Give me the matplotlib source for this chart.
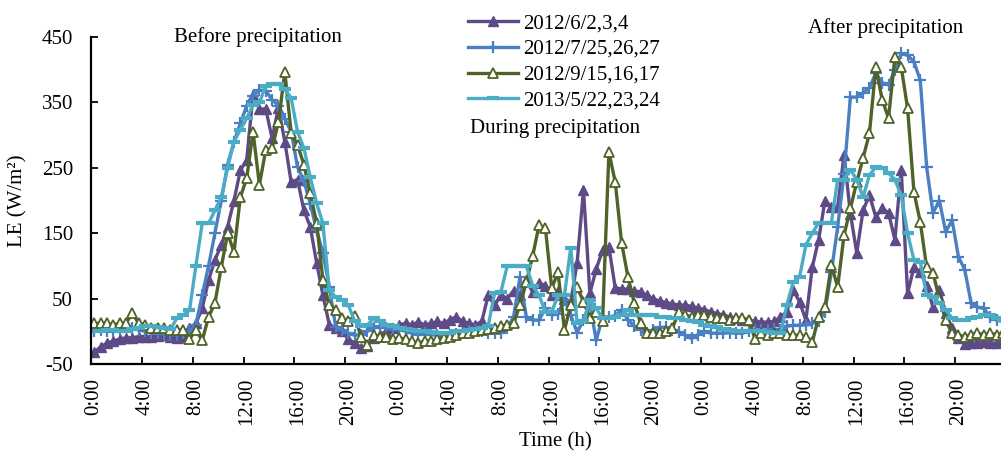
import numpy as np
import matplotlib
matplotlib.use("Agg")
import matplotlib.pyplot as plt
from matplotlib.ticker import FixedLocator, NullFormatter

plt.rcParams["font.family"] = ["Liberation Serif", "DejaVu Serif"]
plt.rcParams["axes.unicode_minus"] = False

# ---------------------------------------------------------------------------
# Data: half-hourly LE (W/m2), three consecutive days per event
# ---------------------------------------------------------------------------
labels = ["2012/6/2,3,4", "2012/7/25,26,27", "2012/9/15,16,17", "2013/5/22,23,24"]

le_jun = [
    -32, -24, -18, -15, -12, -10, -10, -8, -8, -8, -7, -6, -8, -10, -8, 5,
    12, 35, 78, 109, 132, 160, 200, 246, 262, 362, 340, 340, 295, 342, 290, 228,
    232, 185, 160, 105, 55, 10, 5, 0, -12, -18, -25, -22, -10, -5, 0, 5,
    10, 12, 10, 14, 10, 12, 15, 12, 18, 22, 15, 12, 10, 15, 55, 40,
    55, 50, 62, 55, 78, 60, 74, 70, 55, 62, 50, 45, 105, 216, 58, 95,
    124, 129, 66, 65, 64, 62, 60, 55, 50, 46, 44, 42, 40, 40, 38, 36,
    33, 30, 27, 25, 22, 20, 18, 17, 15, 14, 14, 15, 22, 30, 63, 45,
    17, 98, 140, 200, 190, 190, 270, 180, 120, 185, 208, 175, 188, 181, 140, 247,
    58, 98, 90, 70, 37, 63, 28, 5, -10, -20, -18, -18, -17, -18, -18, -17,
]

le_jul = [
    0, 2, 0, 0, 2, 8, 5, 2, 0, -2, -3, -4, -5, -5, -3, 0,
    10, 55, 100, 150, 200, 255, 290, 318, 345, 360, 369, 368, 354, 345, 325, 305,
    251, 230, 195, 155, 120, 68, 7, 2, -3, -6, -5, 0, 5, 8, 5, 3,
    3, 0, -3, -5, -3, -5, -6, -8, -6, -4, -3, 0, 2, 0, -2, -3,
    -3, 5, 22, 83, 22, 17, 17, 35, 25, 27, 48, 25, -2, 18, 42, -14,
    22, 22, 24, 33, 17, 8, 2, -2, 2, 6, 6, 2, -1, -6, -11, -5,
    0, -3, -3, -3, -2, -3, -3, 0, 2, 2, 2, 3, 2, 8, 9, 9,
    10, 12, 15, 30, 90, 160, 240, 358, 358, 365, 372, 395, 380, 377, 400, 425,
    422, 412, 384, 251, 181, 200, 152, 170, 114, 94, 43, 37, 35, 22, 17, 15,
]

le_sep = [
    12, 12, 12, 10, 12, 12, 28, 12, 10, 5, 5, 5, 2, 2, 2, -12,
    2, -14, 22, 43, 98, 150, 121, 205, 234, 305, 224, 277, 280, 320, 397, 303,
    285, 255, 211, 166, 78, 40, 32, 20, 15, 24, -9, -21, -6, -8, -8, -12,
    -10, -12, -15, -18, -15, -15, -12, -10, -8, -5, -3, -2, 0, 2, 3, 5,
    8, 10, 12, 40, 75, 115, 162, 158, 66, 90, 2, 40, 68, 45, 21, 30,
    15, 274, 228, 135, 83, 43, 12, -2, -3, -2, 0, 5, 30, 25, 22, 25,
    25, 22, 20, 20, 18, 20, 20, 18, -12, -3, -5, -3, -2, -5, -6, -6,
    -8, -17, 22, 37, 101, 68, 147, 188, 228, 265, 303, 404, 354, 326, 419, 404,
    341, 213, 167, 98, 89, 50, 17, -3, -5, -9, -5, -3, -5, -3, -5, -3,
]

le_may = [
    0, 0, 2, 2, 0, 0, 3, 5, 8, 8, 7, 5, 3, 20, 25, 32,
    100, 165, 165, 185, 205, 250, 290, 308, 326, 346, 350, 375, 378, 378, 370, 357,
    305, 280, 236, 196, 165, 63, 52, 48, 40, 15, 8, 10, 20, 15, 10, 8,
    5, 3, 2, 0, 0, -1, -2, -2, -2, 0, 0, 2, 3, 5, 8, 58,
    60, 100, 100, 100, 100, 70, 55, 30, 30, 55, 55, 128, 12, 15, 48, 35,
    20, 20, 22, 25, 33, 25, 25, 25, 25, 22, 22, 20, 20, 18, 15, 14,
    10, 8, 6, 4, 2, 1, 0, 0, 0, 0, -1, -2, -3, 40, 75, 83,
    132, 150, 166, 166, 166, 232, 232, 247, 232, 205, 239, 251, 250, 242, 232, 208,
    150, 109, 106, 56, 53, 43, 33, 20, 17, 17, 20, 22, 25, 25, 20, 17,
]

# half-hourly categories over three days (hours since first midnight)
hours = np.arange(len(le_jun)) * 0.5 + 0.25
tick_hours = np.arange(0, 72, 4)
tick_labels = [f"{h % 24}:00" for h in tick_hours]

# ---------------------------------------------------------------------------
# Styles
# ---------------------------------------------------------------------------
styles = [
    dict(color="#5d4a86", marker="^", ms=7, mfc="#5d4a86", mec="#5d4a86"),
    dict(color="#4a80c2", marker="+", ms=8, mew=1.6),
    dict(color="#4f6228", marker="^", ms=7.5, mfc="white", mec="#4f6228", mew=1.3),
    dict(color="#4bacc6", marker="_", ms=8, mew=3),
]
FS = 15

W, H = 1001, 454
fig = plt.figure(figsize=(W / 100, H / 100), dpi=100)
ax = fig.add_axes([91 / W, (H - 364) / H, (W - 91) / W, (364 - 37) / H])

for series, lab, st in zip([le_jun, le_jul, le_sep, le_may], labels, styles):
    ax.plot(hours, series, lw=2.4, label=lab, **st)

ax.set_xlim(0, 71.6)
ax.set_ylim(-50, 450)
ax.set_yticks([-50, 50, 150, 250, 350, 450])

ax.xaxis.set_major_locator(FixedLocator(tick_hours))
ax.xaxis.set_major_formatter(NullFormatter())
ax.xaxis.set_minor_locator(FixedLocator(tick_hours + 0.25))
ax.set_xticklabels(tick_labels, minor=True, rotation=90)

ax.tick_params(axis="x", which="major", direction="in", length=5, width=1.3)
ax.tick_params(axis="x", which="minor", length=0, pad=10, labelsize=FS)
ax.tick_params(axis="y", direction="in", length=5, width=1.3, pad=13,
               labelsize=FS)

for side in ["top", "right"]:
    ax.spines[side].set_visible(False)
for side in ["left", "bottom"]:
    ax.spines[side].set_linewidth(1.6)

ax.set_ylabel("LE (W/m²)", fontsize=FS, va="center")
ax.yaxis.set_label_coords(-0.080, 0.5)
ax.set_xlabel("Time (h)", fontsize=FS, va="center")
ax.xaxis.set_label_coords(0.51, -0.2385)

fig.text(258 / W, 1 - 37 / H, "Before precipitation", ha="center", va="center",
         fontsize=FS)
fig.text(555 / W, 1 - 128 / H, "During precipitation", ha="center", va="center",
         fontsize=FS)
fig.text(886 / W, 1 - 28 / H, "After precipitation", ha="center", va="center",
         fontsize=FS)

ax.legend(loc="upper left", bbox_to_anchor=(453 / W, 1 + 1 / H),
          bbox_transform=fig.transFigure, frameon=False, fontsize=FS,
          handlelength=2.4, handletextpad=0.25, labelspacing=0.3,
          borderpad=0.2)

fig.savefig("out.png", dpi=100)
